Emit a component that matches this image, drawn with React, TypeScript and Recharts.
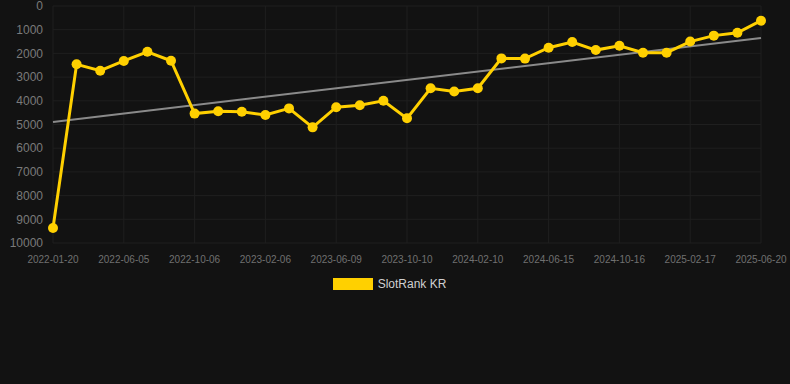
import * as React from "react";
import {
  LineChart,
  Line,
  XAxis,
  YAxis,
  CartesianGrid,
  Legend,
} from "recharts";

const dates = [
  "2022-01-20", "2022-03-06", "2022-04-20", "2022-06-05", "2022-07-16", "2022-08-26",
  "2022-10-06", "2022-11-16", "2022-12-27", "2023-02-06", "2023-03-19", "2023-04-29",
  "2023-06-09", "2023-07-20", "2023-08-30", "2023-10-10", "2023-11-20", "2023-12-31",
  "2024-02-10", "2024-03-22", "2024-05-03", "2024-06-15", "2024-07-26", "2024-09-05",
  "2024-10-16", "2024-11-27", "2025-01-07", "2025-02-17", "2025-03-30", "2025-05-10",
  "2025-06-20",
];

const ranks = [
  9370, 2460, 2730, 2320, 1930, 2310,
  4540, 4440, 4460, 4600, 4320, 5120,
  4270, 4190, 4000, 4740, 3470, 3610,
  3470, 2210, 2220, 1760, 1520, 1860,
  1680, 1970, 1970, 1500, 1250, 1130,
  620,
];

// trend line end points (first and last date)
const trendStart = 4890;
const trendEnd = 1350;

const yTicks = [0, 1000, 2000, 3000, 4000, 5000, 6000, 7000, 8000, 9000, 10000];

const data = dates.map((d, i) => ({
  date: d,
  rank: ranks[i],
  trend: i === 0 ? trendStart : i === dates.length - 1 ? trendEnd : null,
}));

const YELLOW = "#FFD000";

function LegendContent() {
  return (
    <div
      style={{
        display: "flex",
        justifyContent: "center",
        alignItems: "center",
        height: 22,
        paddingLeft: 18,
        fontFamily: "Arial, 'Liberation Sans', sans-serif",
        fontSize: 12,
        color: "#d0d0d0",
      }}
    >
      <span
        style={{
          display: "inline-block",
          width: 40,
          height: 12,
          background: YELLOW,
          marginRight: 5,
        }}
      />
      <span>SlotRank KR</span>
    </div>
  );
}

export default function App() {
  return (
    <div
      style={{
        position: "fixed",
        left: 0,
        top: 0,
        width: 790,
        height: 384,
        background: "#121212",
      }}
    >
      <LineChart
        width={790}
        height={384}
        data={data}
        margin={{ top: 6, right: 29, left: 0, bottom: 89 }}
        style={{ fontFamily: "Arial, 'Liberation Sans', sans-serif" }}
      >
        <CartesianGrid stroke="#1f1f1f" />
        <XAxis
          dataKey="date"
          interval={2}
          tickLine={false}
          axisLine={false}
          tickMargin={7}
          height={30}
          tick={{ fill: "#707070", fontSize: 10 }}
        />
        <YAxis
          reversed
          domain={[0, 10000]}
          ticks={yTicks}
          interval={0}
          width={53}
          tickLine={false}
          axisLine={false}
          tickMargin={4}
          tick={{ fill: "#7a7a7a", fontSize: 12 }}
        />
        <Legend verticalAlign="bottom" content={() => <LegendContent />} />
        <Line
          dataKey="trend"
          stroke="#8a8a8a"
          strokeWidth={2}
          dot={false}
          activeDot={false}
          connectNulls
          isAnimationActive={false}
          legendType="none"
        />
        <Line
          dataKey="rank"
          name="SlotRank KR"
          stroke={YELLOW}
          strokeWidth={3}
          dot={{ r: 5, fill: YELLOW, stroke: YELLOW, strokeWidth: 0 }}
          activeDot={false}
          isAnimationActive={false}
        />
      </LineChart>
    </div>
  );
}
